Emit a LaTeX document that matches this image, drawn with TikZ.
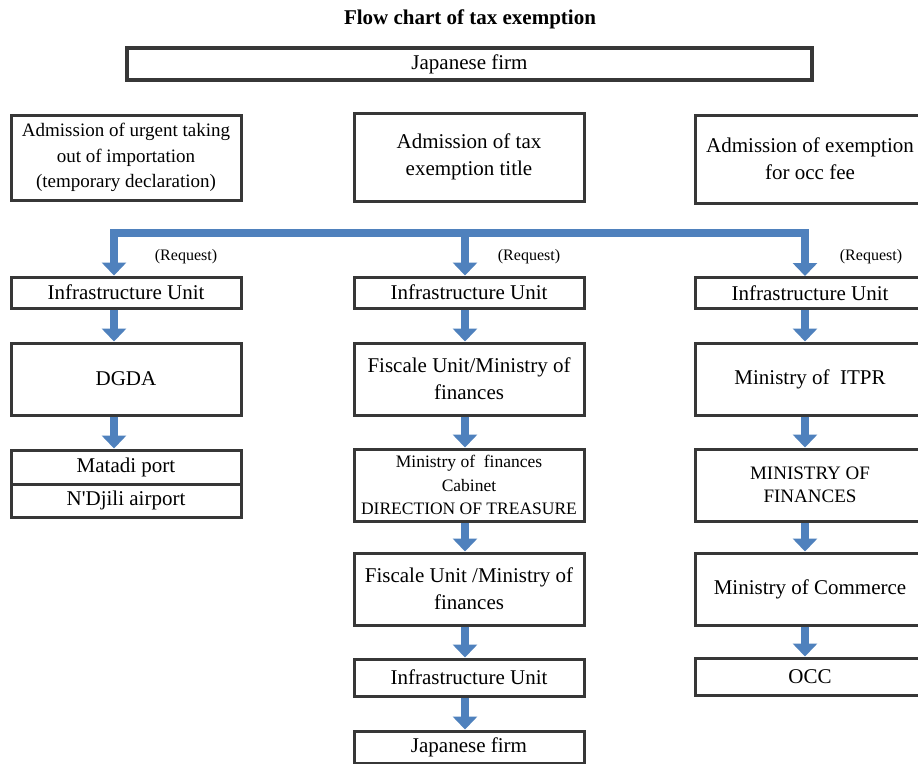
\documentclass[tikz,border=0pt]{standalone}
\usepackage{fontspec}
\setmainfont{Liberation Serif}
\usetikzlibrary{arrows.meta}
\definecolor{flowblue}{RGB}{79,129,189}
\definecolor{boxgray}{RGB}{55,55,55}

\begin{document}
\begin{tikzpicture}[x=1pt,y=-1pt,
  box/.style={draw=boxgray,line width=3pt,fill=white,align=center,inner sep=0pt,
    minimum width=230pt,minimum height=72pt,font=\fontsize{21}{27}\selectfont},
  flow/.style={draw=flowblue,line width=8pt,line join=miter,
    -{Triangle[width=24pt,length=13pt]}},
  req/.style={font=\fontsize{16}{18}\selectfont}]
  \useasboundingbox (0,0) rectangle (918,763);
  \fill[white] (0,0) rectangle (918,763);
  \clip (0,0) rectangle (918,763);
  \coordinate (cL) at (114,0);
  \coordinate (cM) at (465,0);
  \coordinate (cR) at (805,0);
  \coordinate (bar) at (465,233);

  \node[font=\fontsize{21}{25}\selectfont\bfseries] (title) at (470,19) {Flow chart of tax exemption};
  \node[box,line width=4pt,minimum width=685pt,minimum height=32pt] (jfTop) at (469.5,64) {Japanese firm};

  \node[box,minimum height=85pt,font=\fontsize{19}{25.5}\selectfont] (admL) at (126,157.5)
    {Admission of urgent taking\\out of importation\\(temporary declaration)};
  \node[box,minimum height=88pt] (admM) at (469,157) {Admission of tax\\exemption title};
  \node[box,minimum height=88pt] (admR) at (810,159) {Admission of exemption\\for occ fee};

  \node[box,minimum height=31pt] (infL) at (126,292.5) {Infrastructure Unit};
  \node[box,minimum height=31pt] (infM) at (469,292.5) {Infrastructure Unit};
  \node[box,minimum height=31pt] (infR) at (810,293) {Infrastructure Unit};
  \node[req] at (186,257) {(Request)};
  \node[req] at (529,257) {(Request)};
  \node[req] at (871,257) {(Request)};

  \node[box] (dgda) at (126,379) {DGDA};
  \node[box,minimum height=34pt] (matadi) at (126,467) {Matadi port};
  \node[box,minimum height=33pt] (ndjili) at (126,500.5) {N\textquotesingle Djili airport};

  \node[box] (fiscM) at (469,379) {Fiscale Unit/Ministry of\\finances};
  \node[box,font=\fontsize{17.5}{23.5}\selectfont] (cabinet) at (469,485)
    {Ministry of~ finances\\Cabinet\\DIRECTION OF TREASURE};
  \node[box] (fiscM2) at (469,589) {Fiscale Unit /Ministry of\\finances};
  \node[box,minimum height=37pt] (infM2) at (469,677.5) {Infrastructure Unit};
  \node[box,minimum height=32pt] (jfEnd) at (469,747) {Japanese firm};

  \node[box] (itpr) at (810,379) {Ministry of~ ITPR};
  \node[box,font=\fontsize{19}{23}\selectfont] (minfin) at (810,485) {MINISTRY OF\\FINANCES};
  \node[box] (commerce) at (810,589) {Ministry of Commerce};
  \node[box,minimum height=37pt] (occ) at (810,676.5) {OCC};

  \draw[flow] (bar) -| (infL.north -| cL);
  \draw[flow] (bar) -| (infR.north -| cR);
  \draw[flow] (bar) -- (infM.north -| cM);

  \draw[flow] (infL.south -| cL) -- (dgda.north -| cL);
  \draw[flow] (dgda.south -| cL) -- (matadi.north -| cL);

  \draw[flow] (infM.south -| cM) -- (fiscM.north -| cM);
  \draw[flow] (fiscM.south -| cM) -- (cabinet.north -| cM);
  \draw[flow] (cabinet.south -| cM) -- (fiscM2.north -| cM);
  \draw[flow] (fiscM2.south -| cM) -- (infM2.north -| cM);
  \draw[flow] (infM2.south -| cM) -- (jfEnd.north -| cM);

  \draw[flow] (infR.south -| cR) -- (itpr.north -| cR);
  \draw[flow] (itpr.south -| cR) -- (minfin.north -| cR);
  \draw[flow] (minfin.south -| cR) -- (commerce.north -| cR);
  \draw[flow] (commerce.south -| cR) -- (occ.north -| cR);
\end{tikzpicture}
\end{document}
